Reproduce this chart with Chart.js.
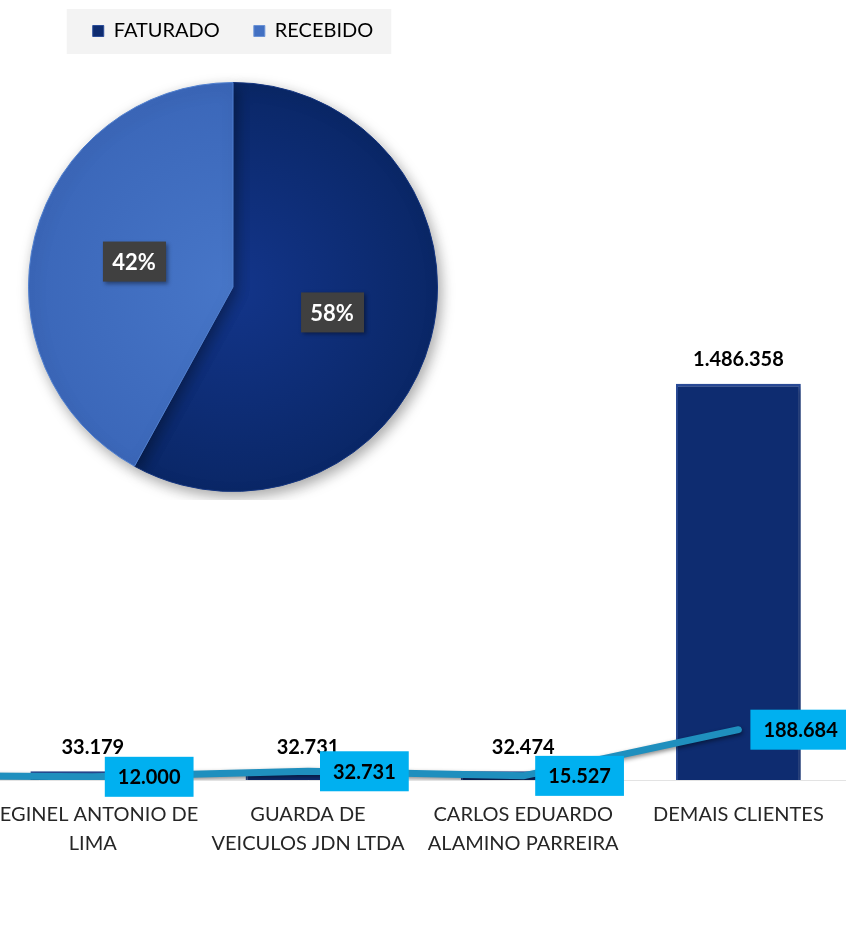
<!DOCTYPE html>
<html>
<head>
<meta charset="utf-8">
<script src="https://cdn.jsdelivr.net/npm/chart.js@4.4.1/dist/chart.umd.min.js"></script>
<style>
  html, body { margin: 0; padding: 0; background: #fff; overflow: hidden; width: 846px; height: 948px; }
  #wrap { position: relative; width: 846px; height: 948px; overflow: hidden; }
  #barBox { position: absolute; left: -230px; top: 0; width: 1076px; height: 948px; }
  #pieBox { position: absolute; left: 0; top: -13px; width: 466px; height: 513px; z-index: 2; }
</style>
</head>
<body>
<div id="wrap">
  <div id="barBox"><canvas id="barChart"></canvas></div>
  <div id="pieBox"><canvas id="pieChart"></canvas></div>
</div>
<script>
// dados (primeira categoria fica fora do recorte, só a linha aparece)
const categorias = [
  '',
  ['REGINEL ANTONIO DE', 'LIMA'],
  ['GUARDA DE', 'VEICULOS JDN LTDA'],
  ['CARLOS EDUARDO', 'ALAMINO PARREIRA'],
  'DEMAIS CLIENTES',
];
const faturado = [34000, 33179, 32731, 32474, 1486358];
const recebido = [18000, 12000, 32731, 15527, 188684];

const pizzaLabels = ['FATURADO', 'RECEBIDO'];
const pizzaValores = [58, 42];

Chart.defaults.font.family = 'Lato';
Chart.defaults.color = '#262626';

const fmt = (v) => String(Math.round(v)).replace(/\B(?=(\d{3})+(?!\d))/g, '.');

// sombra simples por dataset
const shadowPlugin = {
  id: 'shadow',
  beforeDatasetDraw(chart, args, opts) {
    const s = (opts.list || [])[args.index];
    if (!s) return;
    const ctx = chart.ctx;
    ctx.save();
    ctx.shadowColor = s.color; ctx.shadowBlur = s.blur;
    ctx.shadowOffsetX = s.x; ctx.shadowOffsetY = s.y;
  },
  afterDatasetDraw(chart, args, opts) {
    if ((opts.list || [])[args.index]) chart.ctx.restore();
  },
};

// rótulos: valor acima das barras e caixa azul à direita dos pontos da linha
const rotulosBarra = {
  id: 'rotulosBarra',
  afterDatasetsDraw(chart) {
    const ctx = chart.ctx;
    ctx.save();
    ctx.font = 'bold 20px Lato';
    ctx.textAlign = 'center'; ctx.textBaseline = 'middle';
    chart.getDatasetMeta(1).data.forEach((bar, i) => {
      ctx.fillStyle = '#000';
      ctx.fillText(fmt(faturado[i]), bar.x, bar.y - 24);
    });
    chart.getDatasetMeta(0).data.forEach((pt, i) => {
      const txt = fmt(recebido[i]);
      const w = ctx.measureText(txt).width + 26;
      const x0 = pt.x + 12, y0 = pt.y - 20;
      ctx.fillStyle = '#00B0F0';
      ctx.fillRect(x0, y0, w, 40);
      ctx.fillStyle = '#000';
      ctx.fillText(txt, x0 + w / 2, pt.y + 1);
    });
    ctx.restore();
  },
};

new Chart(document.getElementById('barChart'), {
  type: 'bar',
  data: {
    labels: categorias,
    datasets: [
      {
        type: 'line', label: 'RECEBIDO', data: recebido, order: 0,
        borderColor: '#1F8FBE', borderWidth: 7, pointRadius: 0, tension: 0,
        borderCapStyle: 'round', borderJoinStyle: 'round', fill: false,
      },
      {
        type: 'bar', label: 'FATURADO', data: faturado, order: 1,
        backgroundColor: '#0E2C70', borderColor: '#2A4C9A',
        borderWidth: { top: 3, left: 2, right: 2, bottom: 0 }, borderSkipped: 'bottom',
        categoryPercentage: 1, barPercentage: 0.58,
      },
    ],
  },
  options: {
    responsive: true, maintainAspectRatio: false, animation: false,
    layout: { padding: { top: 300, bottom: 78, left: 0, right: 0 } },
    plugins: {
      legend: { display: false }, tooltip: { enabled: false },
      shadow: { list: [
        { color: 'rgba(0,0,0,0.45)', blur: 4, x: 1, y: 2 },
        { color: 'rgba(0,0,0,0.35)', blur: 6, x: 2, y: 2 },
      ] },
    },
    scales: {
      x: {
        grid: { display: false },
        border: { display: true, color: '#E3E3E3', width: 1 },
        ticks: { autoSkip: false, maxRotation: 0, padding: 12, color: '#262626',
                 font: { size: 20, lineHeight: 1.45 } },
      },
      y: { display: false, min: 0, max: 1800000 },
    },
  },
  plugins: [shadowPlugin, rotulosBarra],
});

// pizza com legenda em caixa cinza
const legendaAltura = {
  id: 'legendaAltura',
  beforeInit(chart) {
    const fit = chart.legend.fit;
    chart.legend.fit = function () { fit.bind(chart.legend)(); this.height = 95; };
  },
};
const fundoLegenda = {
  id: 'fundoLegenda',
  beforeDraw(chart) {
    const hb = chart.legend && chart.legend.legendHitBoxes;
    if (!hb || !hb.length) return;
    const l = Math.min(...hb.map(h => h.left)) - 26;
    const r = Math.max(...hb.map(h => h.left + h.width)) + 18;
    const cy = hb[0].top + hb[0].height / 2;
    const ctx = chart.ctx;
    ctx.save();
    ctx.fillStyle = '#F3F3F3';
    ctx.fillRect(l, cy - 22, r - l, 45);
    ctx.restore();
  },
};
const rotulosPizza = {
  id: 'rotulosPizza',
  afterDatasetsDraw(chart) {
    const ctx = chart.ctx;
    const total = pizzaValores.reduce((a, b) => a + b, 0);
    ctx.save();
    ctx.font = 'bold 22px Lato';
    ctx.textAlign = 'center'; ctx.textBaseline = 'middle';
    chart.getDatasetMeta(0).data.forEach((arc, i) => {
      const p = arc.tooltipPosition();
      const txt = Math.round(pizzaValores[i] / total * 100) + '%';
      ctx.shadowColor = 'rgba(0,0,0,0.4)'; ctx.shadowBlur = 4; ctx.shadowOffsetX = 2; ctx.shadowOffsetY = 2;
      ctx.fillStyle = '#404040';
      ctx.fillRect(p.x - 31, p.y - 20, 63, 40);
      ctx.shadowColor = 'transparent';
      ctx.fillStyle = '#fff';
      ctx.fillText(txt, p.x, p.y + 1);
    });
    ctx.restore();
  },
};

function corFatia(inner, outer, solid) {
  return (c) => {
    const a = c.chart.chartArea;
    if (!a) return solid;
    const cx = (a.left + a.right) / 2, cy = (a.top + a.bottom) / 2;
    const r = Math.min(a.right - a.left, a.bottom - a.top) / 2;
    const g = c.chart.ctx.createRadialGradient(cx, cy, 0, cx, cy, r);
    g.addColorStop(0, inner); g.addColorStop(1, outer);
    return g;
  };
}

new Chart(document.getElementById('pieChart'), {
  type: 'pie',
  data: {
    labels: pizzaLabels,
    datasets: [{
      data: pizzaValores,
      backgroundColor: (c) => c.dataIndex === 0
        ? corFatia('#13358A', '#0A2767', '#0E2C70')(c)
        : corFatia('#4776C8', '#3B67B9', '#4270C2')(c),
      borderColor: ['#12337E', '#4F7FCF'], borderWidth: 1,
    }],
  },
  options: {
    responsive: true, maintainAspectRatio: false, animation: false,
    layout: { padding: { top: 0, bottom: 8, left: 0, right: 0 } },
    plugins: {
      tooltip: { enabled: false },
      legend: {
        display: true, position: 'top',
        labels: { boxWidth: 11, boxHeight: 11, padding: 34, color: '#262626', font: { size: 20 },
                  generateLabels: (chart) => pizzaLabels.map((t, i) => ({
                    text: t, fillStyle: ['#0E2C70', '#4270C2'][i], strokeStyle: ['#2A4C9A', '#6A92D6'][i],
                    lineWidth: 1, index: i, hidden: false })) },
      },
      shadow: { list: [{ color: 'rgba(0,0,0,0.35)', blur: 14, x: 3, y: 5 }] },
    },
  },
  plugins: [legendaAltura, fundoLegenda, shadowPlugin, rotulosPizza],
});
</script>
</body>
</html>
